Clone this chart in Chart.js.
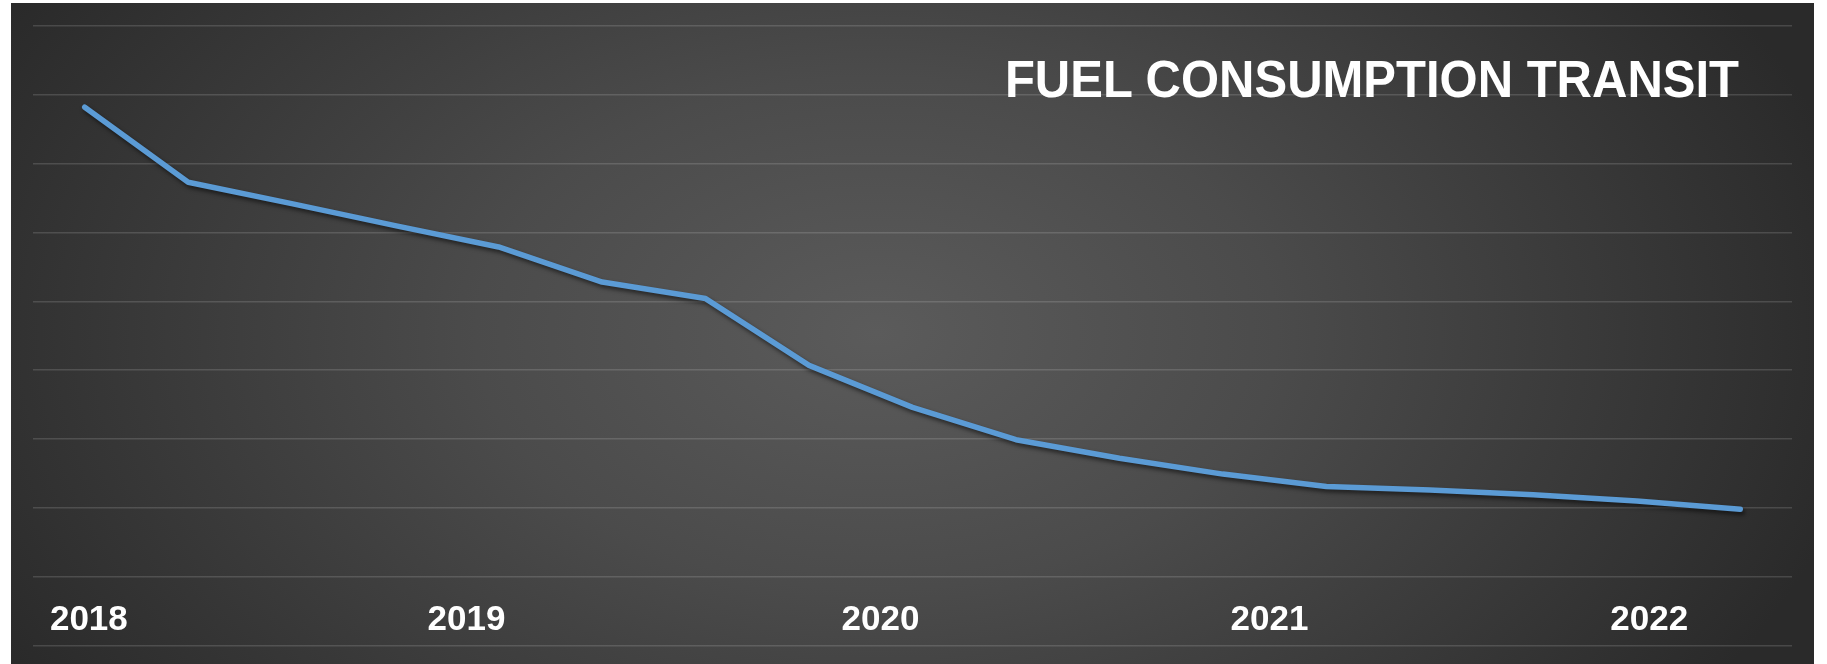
<!DOCTYPE html>
<html>
<head>
<meta charset="utf-8">
<title>Fuel Consumption Transit</title>
<script src="https://cdn.jsdelivr.net/npm/chart.js@4.4.1/dist/chart.umd.min.js"></script>
<style>
  html, body { margin: 0; padding: 0; background: #fff; }
  #wrap { position: relative; width: 1827px; height: 664px; overflow: hidden; }
  #panel {
    position: absolute; left: 11px; top: 3px; width: 1803px; height: 661px;
    background: radial-gradient(ellipse 1000px 640px at 48% 50%, #5b5b5b 0%, #4b4b4b 40%, #2a2a2a 100%);
  }
  #title {
    position: absolute; right: 88px; top: 56px;
    font: bold 49px 'Liberation Sans', Arial, sans-serif; line-height: 48px;
    color: #fff; white-space: pre;
    transform: scaleY(1.05); transform-origin: right bottom;
  }
  #fuelChart { position: absolute; left: 0; top: 0; }
</style>
</head>
<body>
<div id="wrap">
  <div id="panel"></div>
  <canvas id="fuelChart" width="1827" height="664"></canvas>
  <div id="title">FUEL CONSUMPTION TRANSIT</div>
</div>
<script>
// readings, evenly spaced points
const pointIndex = [0, 1, 2, 3, 4, 5, 6, 7, 8, 9, 10, 11, 12, 13, 14, 15, 16];
const fuelUse = [7.82, 6.73, 6.42, 6.10, 5.79, 5.28, 5.04, 4.07, 3.46, 2.99, 2.72, 2.49, 2.31, 2.26, 2.19, 2.10, 1.98];

// year labels sit at these positions along the x axis
const yearLabels = ['2018', '2019', '2020', '2021', '2022'];
const yearTickAt = [0.04, 3.69, 7.69, 11.45, 15.12];

const fontFamily = "'Liberation Sans', Arial, sans-serif";

const lineShadow = {
    id: 'lineShadow',
    beforeDatasetsDraw(chart) {
        const c = chart.ctx;
        c.save();
        c.shadowColor = 'rgba(0, 0, 0, 0.55)';
        c.shadowBlur = 4;
        c.shadowOffsetX = 2;
        c.shadowOffsetY = 3;
    },
    afterDatasetsDraw(chart) {
        chart.ctx.restore();
    }
};

const ctx = document.getElementById('fuelChart').getContext('2d');
const chart = new Chart(ctx, {
    type: 'line',
    data: {
        datasets: [{
            label: 'Fuel consumption transit',
            data: pointIndex.map((x, i) => ({ x: x, y: fuelUse[i] })),
            borderColor: '#5b9bd5',
            borderWidth: 5.5,
            borderCapStyle: 'round',
            borderJoinStyle: 'round',
            pointRadius: 0,
            tension: 0
        }]
    },
    options: {
        responsive: false,
        animation: false,
        layout: {
            padding: { left: 33, right: 35, top: 26, bottom: 18.5 }
        },
        plugins: {
            legend: { display: false },
            tooltip: { enabled: false }
        },
        scales: {
            x: {
                type: 'linear',
                min: -0.5,
                max: 16.5,
                afterBuildTicks: s => { s.ticks = yearTickAt.map(v => ({ value: v })); },
                afterFit: s => { s.height = 0; },
                ticks: {
                    callback: (v, i) => yearLabels[i],
                    color: '#ffffff',
                    font: { family: fontFamily, size: 35, weight: 'bold' },
                    mirror: true,   // labels sit inside the plot, above the last grid line
                    padding: 4,
                    autoSkip: false,
                    maxRotation: 0
                },
                grid: { display: false, drawTicks: false },
                border: { display: false }
            },
            y: {
                min: 0,
                max: 9,
                afterFit: s => { s.width = 0; },
                ticks: { display: false, stepSize: 1 },
                grid: {
                    color: 'rgba(255, 255, 255, 0.14)',
                    lineWidth: 1.5,
                    drawTicks: false
                },
                border: { display: false }
            }
        }
    },
    plugins: [lineShadow]
});
</script>
</body>
</html>
